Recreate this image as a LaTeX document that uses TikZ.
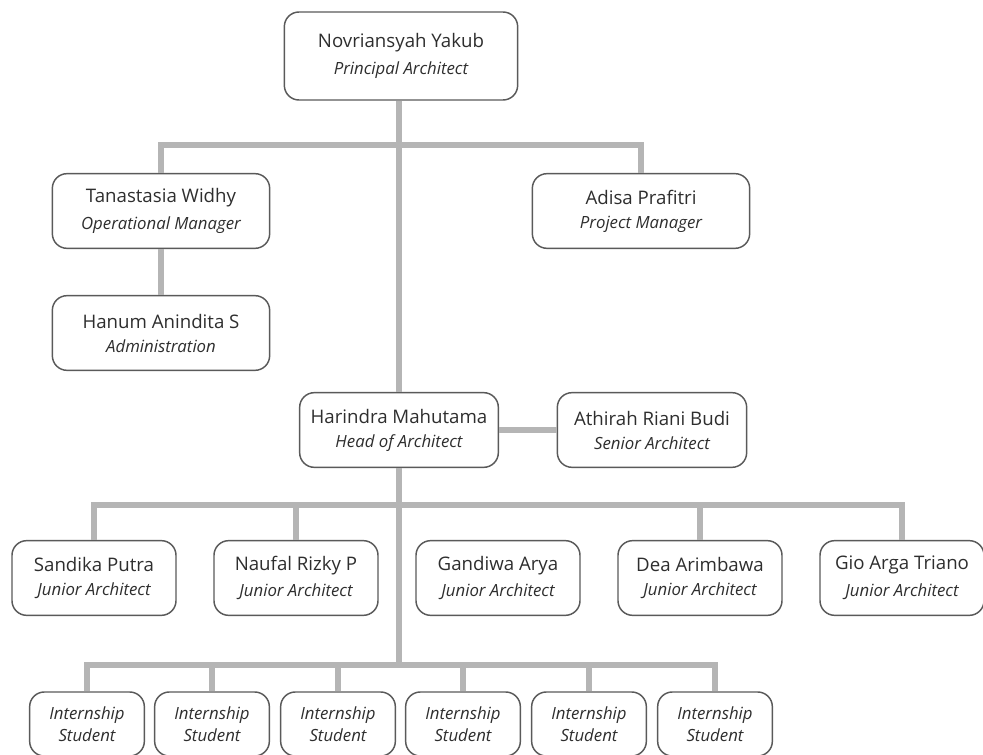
\documentclass[tikz,border=0pt]{standalone}
\usepackage{fontspec}
\setmainfont{Open Sans}
\definecolor{linkgray}{HTML}{B5B5B5}
\definecolor{boxgray}{HTML}{5A5A5A}
\definecolor{textgray}{HTML}{2E2E2E}
\newcommand{\person}[2]{{\fontsize{14}{16}\selectfont #1}\\[6pt]{\fontsize{12.6}{15}\selectfont\itshape #2}}
\tikzset{
  card/.style={draw=boxgray, line width=1.1pt, rounded corners=11pt, fill=white,
    text=textgray, align=center, inner sep=0pt, minimum height=56pt},
  intern/.style={card, minimum width=86pt, minimum height=48pt,
    font=\fontsize{12.6}{16.5}\selectfont\itshape},
  link/.style={draw=linkgray, line width=5.2pt}
}
\begin{document}
\begin{tikzpicture}[x=0.75pt, y=-0.75pt]
  \useasboundingbox [fill=white] (0,0) rectangle (983,755);

  \node [card, minimum width=175pt, minimum height=66pt] (novri) at (401, 56) {\person{Novriansyah Yakub}{Principal Architect}};
  \node [card, minimum width=163pt] (tana) at (161, 211) {\person{Tanastasia Widhy}{Operational Manager}};
  \node [card, minimum width=163pt] (adisa) at (641, 211) {\person{Adisa Prafitri}{Project Manager}};
  \node [card, minimum width=163pt] (hanum) at (161, 333) {\person{Hanum Anindita S}{Administration}};
  \node [card, minimum width=149pt] (hari) at (399, 430) {\person{Harindra Mahutama}{Head of Architect}};
  \node [card, minimum width=142pt] (athi) at (652, 430) {\person{Athirah Riani Budi}{Senior Architect}};

  \node [card, minimum width=123pt] (sandika) at (94, 578) {\person{Sandika Putra}{Junior Architect}};
  \node [card, minimum width=123pt] (naufal) at (296, 578) {\person{Naufal Rizky P}{Junior Architect}};
  \node [card, minimum width=123pt] (gandiwa) at (498, 578) {\person{Gandiwa Arya}{Junior Architect}};
  \node [card, minimum width=123pt] (dea) at (700, 578) {\person{Dea Arimbawa}{Junior Architect}};
  \node [card, minimum width=123pt] (gio) at (902, 578) {\person{Gio Arga Triano}{Junior Architect}};

  \foreach \i/\x in {1/87, 2/212, 3/338, 4/463, 5/589, 6/715}
    \node [intern] (s\i) at (\x, 724) {Internship\\Student};

  \coordinate (topbar) at (399, 145);
  \coordinate (midbar) at (399, 505);
  \coordinate (lowbar) at (399, 665);

  % management
  \draw [link] (novri.south -| hari.north) -- (hari.north);
  \draw [link] (tana.north) |- (topbar) -| (adisa.north);
  \draw [link] (tana.south) -- (hanum.north);
  \draw [link] (hari.east) -- (athi.west);

  % architects and students
  \draw [link] (hari.south) -- (lowbar);
  \draw [link] (sandika.north) |- (midbar) -| (gio.north);
  \foreach \n in {naufal, dea}
    \draw [link] (\n.north) -- (\n.north |- midbar);
  \draw [link] (s1.north) |- (lowbar) -| (s6.north);
  \foreach \i in {2,...,5}
    \draw [link] (s\i.north) -- (s\i.north |- lowbar);
\end{tikzpicture}
\end{document}
